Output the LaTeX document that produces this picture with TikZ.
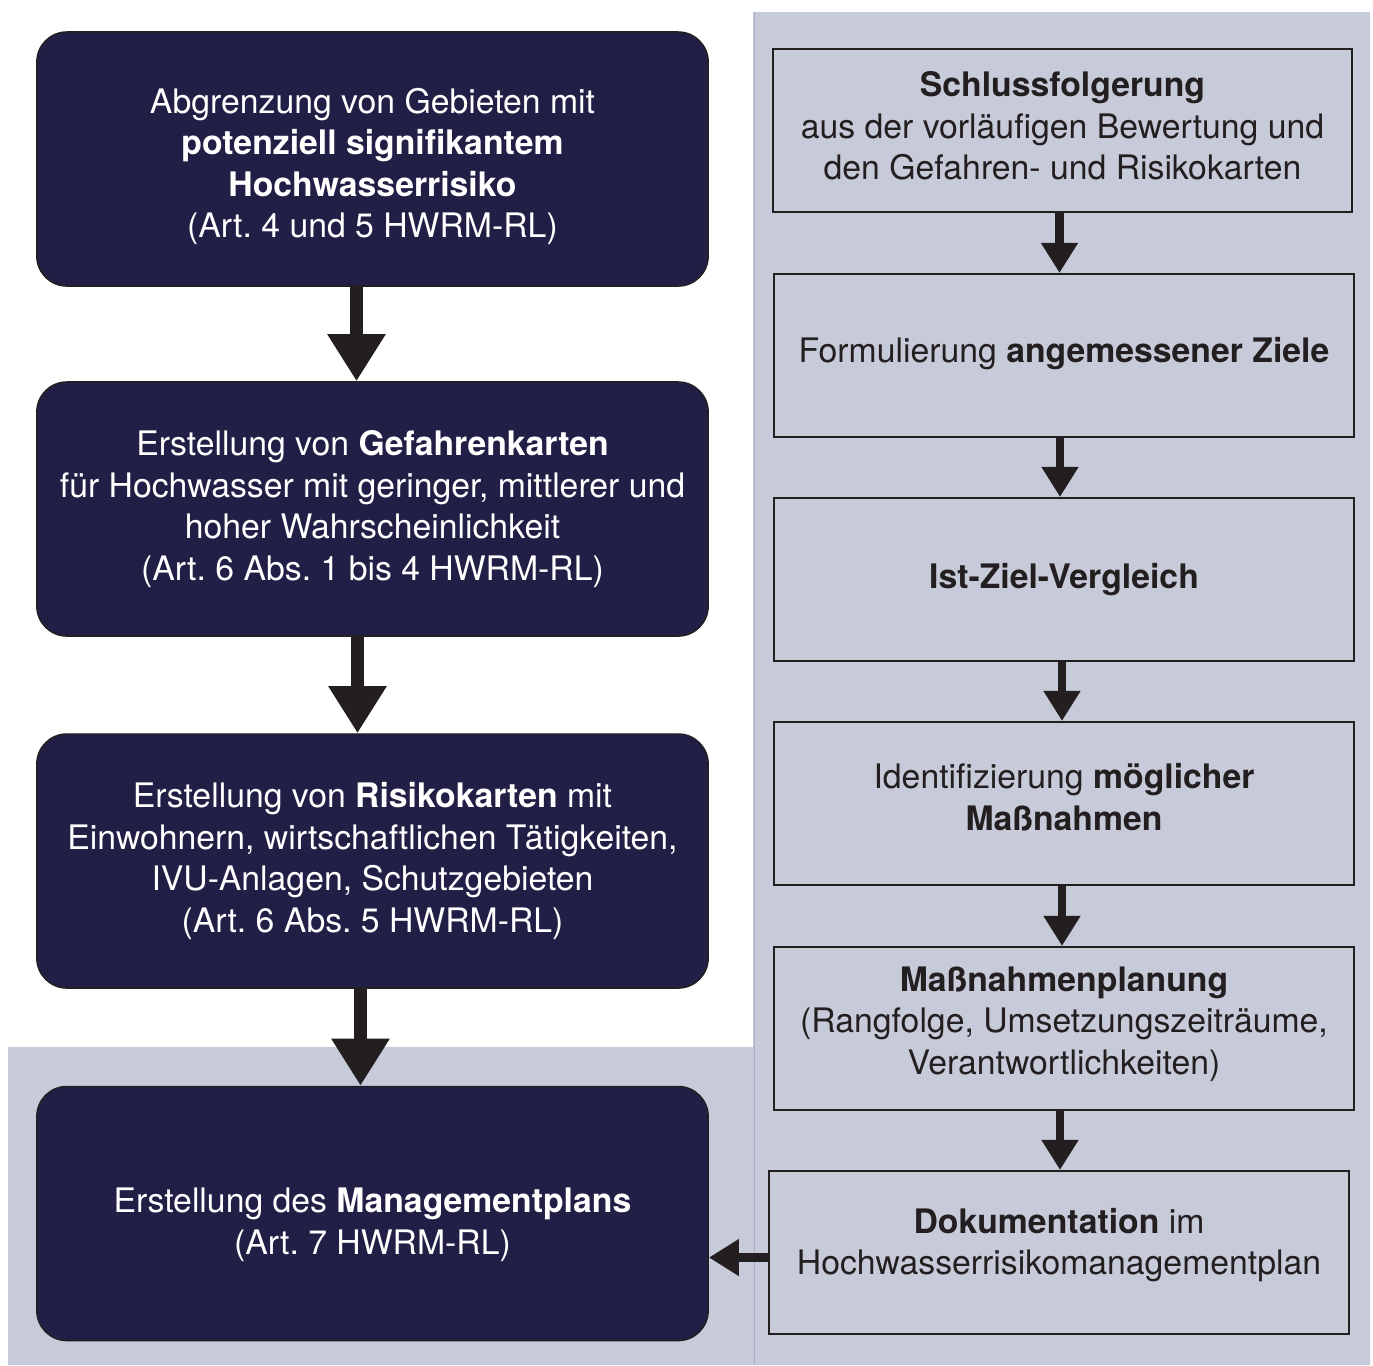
\documentclass[tikz,border=0pt]{standalone}
\usepackage{fontspec}
\setmainfont{TeX Gyre Heros}
\usepackage{xcolor}
\usetikzlibrary{arrows.meta}
\definecolor{navy}{RGB}{33,31,69}
\definecolor{panel}{RGB}{199,202,216}
\definecolor{ink}{RGB}{35,31,32}
\definecolor{rule}{RGB}{170,172,204}
\newcommand{\vpush}[1]{\rule{0pt}{#1}}
\newcommand{\vdrop}[1]{\rule[-#1]{0pt}{#1}}
\frenchspacing

\begin{document}
\begin{tikzpicture}
		[x=0.01cm,y=-0.01cm,
		every node/.style={font=\fontsize{9.6}{11.8}\selectfont,align=center},
		dark/.style={draw=ink,fill=navy,text=white,rounded corners=0.3cm,minimum width=6.71cm,minimum height=2.54cm},
		light/.style={draw=ink,line width=0.02cm,fill=panel,text=ink,minimum width=5.79cm,minimum height=1.63cm},
		bigarrow/.style={draw=ink,line width=0.13cm,-{Triangle[length=0.47cm,width=0.55cm]}},
		smallarrow/.style={draw=ink,line width=0.085cm,-{Triangle[length=0.30cm,width=0.35cm]}}]
		\useasboundingbox (0,0) rectangle (1373,1365);
		% grey panel behind the planning steps
		\fill [panel] (753,12) -- (1370,12) -- (1370,1365) -- (8,1365) -- (8,1047) -- (753,1047) -- cycle;
		\draw [rule, line width=0.01cm] (754,12) -- (754,1365);
		% left column
		\node [dark] (b1) at (372.5,159) {\vpush{11.5pt}Abgrenzung von Gebieten mit\\ \textbf{potenziell signifikantem}\\ \textbf{Hochwasserrisiko}\\ (Art. 4 und 5 HWRM-RL)};
		\node [dark] (b2) at (372.5,509) {Erstellung von \textbf{Gefahrenkarten}\\ für Hochwasser mit geringer, mittlerer und\\ hoher Wahrscheinlichkeit\\ (Art. 6 Abs. 1 bis 4 HWRM-RL)};
		\node [dark] (b3) at (372.5,861) {Erstellung von \textbf{Risikokarten} mit\\ Einwohnern, wirtschaftlichen Tätigkeiten,\\ IVU-Anlagen, Schutzgebieten\\ (Art. 6 Abs. 5 HWRM-RL)};
		\node [dark] (b4) at (372.5,1213.5) {\vpush{13.3pt}Erstellung des \textbf{Managementplans}\\ (Art. 7 HWRM-RL)};
		\draw [bigarrow] ([xshift=-0.16cm]b1.south) -- ([xshift=-0.16cm]b1.south |- b2.north);
		\draw [bigarrow] ([xshift=-0.15cm]b2.south) -- ([xshift=-0.15cm]b2.south |- b3.north);
		\draw [bigarrow] ([xshift=-0.12cm]b3.south) -- ([xshift=-0.12cm]b3.south |- b4.north);
		% right column
		\node [light] (r1) at (1062.5,130.5) {\textbf{Schlussfolgerung}\\ aus der vorläufigen Bewertung und\\ den Gefahren- und Risikokarten\vdrop{2.6pt}};
		\node [light] (r2) at (1064,355.5) {Formulierung \textbf{angemessener Ziele}\vdrop{3.1pt}};
		\node [light] (r3) at (1064,579.5) {\textbf{Ist-Ziel-Vergleich}};
		\node [light] (r4) at (1064,803.5) {Identifizierung \textbf{möglicher}\\ \textbf{Maßnahmen}\vdrop{3.7pt}};
		\node [light] (r5) at (1064,1028.5) {\textbf{Maßnahmenplanung}\\ (Rangfolge, Umsetzungszeiträume,\\ Verantwortlichkeiten)\vdrop{4.6pt}};
		\node [light] (r6) at (1059,1252.5) {\textbf{Dokumentation} im\\ Hochwasserrisikomanagementplan\vdrop{6.3pt}};
		\draw [smallarrow] ([xshift=-0.03cm]r1.south) -- ([xshift=-0.03cm]r1.south |- r2.north);
		\draw [smallarrow] ([xshift=-0.04cm]r2.south) -- ([xshift=-0.04cm]r2.south |- r3.north);
		\draw [smallarrow] ([xshift=-0.02cm]r3.south) -- ([xshift=-0.02cm]r3.south |- r4.north);
		\draw [smallarrow] ([xshift=-0.02cm]r4.south) -- ([xshift=-0.02cm]r4.south |- r5.north);
		\draw [smallarrow] ([xshift=-0.04cm]r5.south) -- ([xshift=-0.04cm]r5.south |- r6.north);
		\draw [smallarrow] ([yshift=-0.05cm]r6.west) -- ([yshift=-0.05cm]r6.west -| b4.east);
	\end{tikzpicture}
\end{document}
